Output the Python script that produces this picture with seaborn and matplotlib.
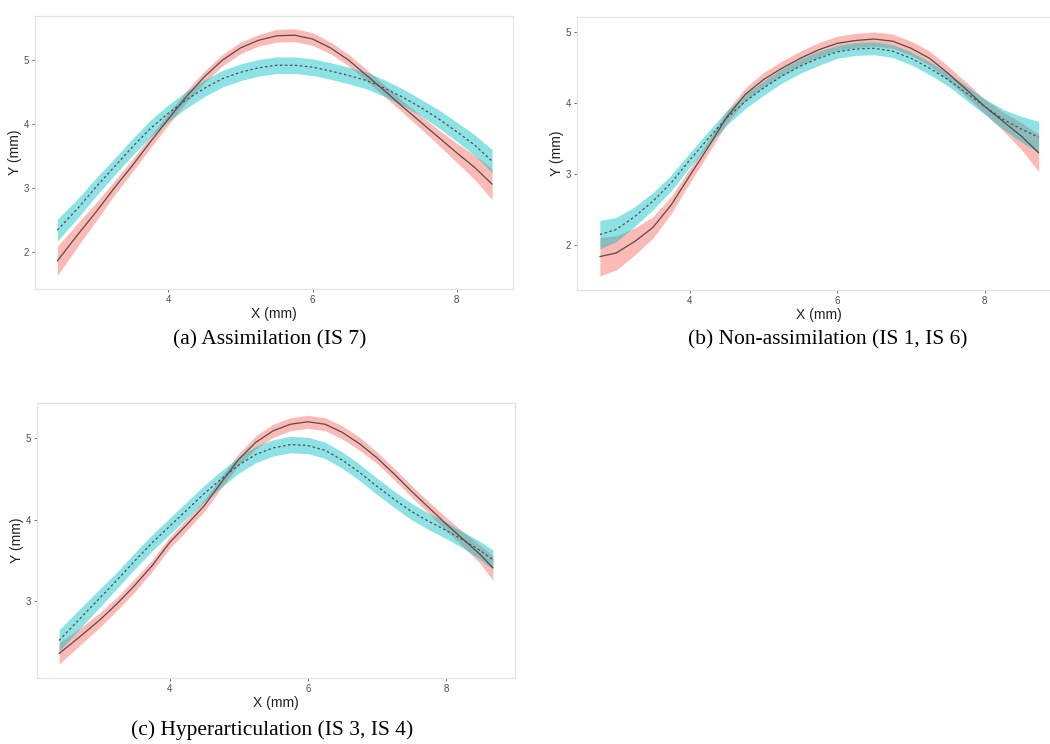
import numpy as np
import pandas as pd
import matplotlib
matplotlib.use("Agg")
import matplotlib.pyplot as plt
import seaborn as sns

# (a) Assimilation (IS 7)
a_x = [2.46, 2.75, 3.0, 3.25, 3.5, 3.75, 4.0, 4.25, 4.5, 4.75, 5.0, 5.25, 5.5,
       5.75, 6.0, 6.25, 6.5, 6.75, 7.0, 7.25, 7.5, 7.75, 8.0, 8.25, 8.49]
a_y_red = [1.86, 2.28, 2.63, 3.0, 3.35, 3.72, 4.08, 4.43, 4.74, 5.0, 5.19, 5.31, 5.38,
           5.39, 5.33, 5.19, 5.0, 4.76, 4.52, 4.27, 4.03, 3.79, 3.55, 3.32, 3.06]
a_ci_red = [0.23, 0.18, 0.14, 0.11, 0.1, 0.09, 0.09, 0.09, 0.09, 0.09, 0.09, 0.09, 0.1,
            0.1, 0.1, 0.09, 0.09, 0.09, 0.09, 0.09, 0.1, 0.12, 0.15, 0.19, 0.24]
a_y_cyan = [2.34, 2.69, 3.02, 3.33, 3.64, 3.93, 4.17, 4.38, 4.56, 4.71, 4.81, 4.88, 4.92,
            4.92, 4.89, 4.83, 4.76, 4.68, 4.56, 4.42, 4.26, 4.08, 3.88, 3.67, 3.42]
a_ci_cyan = [0.17, 0.15, 0.14, 0.13, 0.13, 0.13, 0.13, 0.13, 0.13, 0.13, 0.13, 0.13, 0.13,
             0.13, 0.13, 0.13, 0.13, 0.13, 0.13, 0.13, 0.13, 0.14, 0.15, 0.16, 0.18]

# (b) Non-assimilation (IS 1, IS 6)
b_x = [2.78, 3.0, 3.25, 3.5, 3.75, 4.0, 4.25, 4.5, 4.75, 5.0, 5.25, 5.5, 5.75,
       6.0, 6.25, 6.5, 6.75, 7.0, 7.25, 7.5, 7.75, 8.0, 8.25, 8.5, 8.73]
b_y_red = [1.84, 1.89, 2.05, 2.25, 2.57, 2.98, 3.38, 3.8, 4.12, 4.33, 4.49, 4.63, 4.75,
           4.84, 4.88, 4.9, 4.87, 4.77, 4.63, 4.42, 4.19, 3.95, 3.74, 3.53, 3.3]
b_ci_red = [0.27, 0.24, 0.19, 0.15, 0.12, 0.1, 0.09, 0.09, 0.09, 0.1, 0.1, 0.1, 0.1,
            0.1, 0.1, 0.1, 0.1, 0.1, 0.1, 0.1, 0.1, 0.1, 0.13, 0.19, 0.26]
b_y_cyan = [2.15, 2.22, 2.4, 2.62, 2.88, 3.2, 3.5, 3.79, 4.02, 4.21, 4.38, 4.52, 4.63,
            4.72, 4.76, 4.77, 4.73, 4.63, 4.49, 4.33, 4.14, 3.95, 3.77, 3.63, 3.52]
b_ci_cyan = [0.2, 0.17, 0.14, 0.12, 0.11, 0.1, 0.1, 0.1, 0.1, 0.1, 0.1, 0.1, 0.1,
             0.09, 0.09, 0.09, 0.09, 0.09, 0.09, 0.09, 0.1, 0.11, 0.14, 0.18, 0.22]

# (c) Hyperarticulation (IS 3, IS 4)
c_x = [2.4, 2.75, 3.0, 3.25, 3.5, 3.75, 4.0, 4.25, 4.5, 4.75, 5.0, 5.25, 5.5,
       5.75, 6.0, 6.25, 6.5, 6.75, 7.0, 7.25, 7.5, 7.75, 8.0, 8.25, 8.5, 8.68]
c_y_red = [2.36, 2.6, 2.78, 2.98, 3.2, 3.44, 3.72, 3.94, 4.17, 4.46, 4.74, 4.95, 5.09,
           5.17, 5.2, 5.17, 5.07, 4.93, 4.76, 4.56, 4.35, 4.15, 3.95, 3.76, 3.57, 3.41]
c_ci_red = [0.13, 0.1, 0.09, 0.08, 0.08, 0.07, 0.07, 0.07, 0.07, 0.07, 0.07, 0.08, 0.08,
            0.08, 0.08, 0.08, 0.08, 0.08, 0.07, 0.07, 0.07, 0.07, 0.08, 0.09, 0.11, 0.15]
c_y_cyan = [2.52, 2.83, 3.05, 3.27, 3.5, 3.72, 3.92, 4.12, 4.32, 4.5, 4.67, 4.8, 4.88,
            4.92, 4.91, 4.85, 4.73, 4.58, 4.41, 4.25, 4.1, 3.98, 3.87, 3.75, 3.62, 3.51]
c_ci_cyan = [0.13, 0.12, 0.11, 0.1, 0.1, 0.1, 0.1, 0.1, 0.1, 0.1, 0.1, 0.1, 0.1,
             0.1, 0.1, 0.1, 0.1, 0.1, 0.1, 0.1, 0.1, 0.1, 0.1, 0.1, 0.11, 0.12]

captions = ["(a) Assimilation (IS 7)", "(b) Non-assimilation (IS 1, IS 6)",
            "(c) Hyperarticulation (IS 3, IS 4)"]

RED = "#F8766D"
CYAN = "#00BFC4"
LINE = "#5a4a4a"

sns.set_theme(style="white")
plt.rcParams["font.family"] = ["Liberation Sans", "DejaVu Sans"]

fig = plt.figure(figsize=(10.5, 7.44), dpi=100)


def smooth_panel(ax, x, yr, cr, yc, cc):
    yr, cr, yc, cc = map(np.asarray, (yr, cr, yc, cc))
    ax.fill_between(x, yr - cr, yr + cr, color=RED, alpha=0.5, lw=0)
    ax.fill_between(x, yc - cc, yc + cc, color=CYAN, alpha=0.45, lw=0)
    sns.lineplot(x=x, y=yr, ax=ax, color=LINE, lw=0.9)
    sns.lineplot(x=x, y=yc, ax=ax, color=LINE, lw=0.9, linestyle=(0, (2, 2)))


def style_axes(ax, xlim, ylim, yticks):
    ax.set_xlim(*xlim)
    ax.set_ylim(*ylim)
    ax.set_xticks([4, 6, 8])
    ax.set_yticks(yticks)
    ax.tick_params(axis="both", which="both", bottom=True, left=True,
                   length=2.5, width=0.6, color="#555555", labelsize=7,
                   labelcolor="#4d4d4d", pad=2)
    for s in ax.spines.values():
        s.set_color("#e2e2e2")
        s.set_linewidth(0.9)
    ax.set_xlabel("X (mm)", fontsize=10, color="#222222", labelpad=1)
    ax.set_ylabel("Y (mm)", fontsize=10, color="#222222", labelpad=1)


ax_a = fig.add_axes([35 / 1050, 1 - 289 / 744, 478 / 1050, 273 / 744])
smooth_panel(ax_a, a_x, a_y_red, a_ci_red, a_y_cyan, a_ci_cyan)
style_axes(ax_a, (2.15, 8.78), (1.42, 5.69), [2, 3, 4, 5])

ax_b = fig.add_axes([577 / 1050, 1 - 290 / 744, 483 / 1050, 273 / 744])
smooth_panel(ax_b, b_x, b_y_red, b_ci_red, b_y_cyan, b_ci_cyan)
style_axes(ax_b, (2.47, 9.02), (1.37, 5.21), [2, 3, 4, 5])

ax_c = fig.add_axes([37 / 1050, 1 - 678 / 744, 478 / 1050, 275 / 744])
smooth_panel(ax_c, c_x, c_y_red, c_ci_red, c_y_cyan, c_ci_cyan)
style_axes(ax_c, (2.08, 9.0), (2.06, 5.43), [3, 4, 5])

cap_pos = [(270, 340), (828, 340), (272, 730)]
for (px, py), txt in zip(cap_pos, captions):
    fig.text(px / 1050, 1 - py / 744, txt, ha="center", va="center",
             fontsize=15.5, family="Liberation Serif", color="black")

fig.savefig("out.png", dpi=100)
